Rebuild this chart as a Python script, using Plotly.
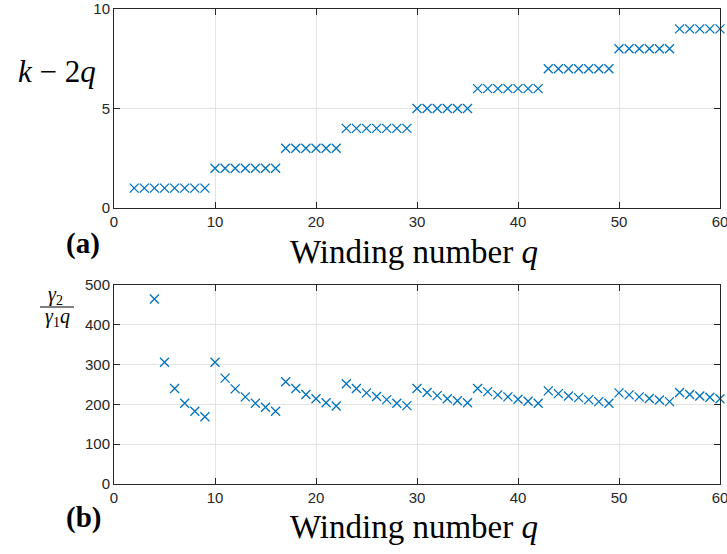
import plotly.graph_objects as go
from plotly.subplots import make_subplots

# Data
q_top = list(range(2, 61))
k_minus_2q = ([1] * 8 + [2] * 7 + [3] * 6 + [4] * 7 + [5] * 6 + [6] * 7 +
              [7] * 7 + [8] * 6 + [9] * 5)

q_bot = list(range(4, 61))
gamma_ratio = [465, 306, 240, 203, 183, 169,
               306, 266, 239, 219, 203, 193, 183,
               257, 240, 225, 214, 204, 196,
               252, 240, 229, 220, 212, 203, 197,
               240, 230, 222, 214, 209, 204,
               240, 232, 224, 219, 213, 208, 203,
               234, 227, 221, 217, 212, 207, 203,
               229, 224, 219, 215, 211, 207,
               230, 225, 221, 218, 214]

x_ticks = [0, 10, 20, 30, 40, 50, 60]

W, H = 727, 554
L, R, T, B = 114, 7, 9, 70
pw = W - L - R
ph = H - T - B


def px(x):
    return (x - L) / pw


def py(y):
    return (H - B - y) / ph


fig = make_subplots(rows=2, cols=1)
blue = "#0072BD"
mk = dict(symbol="x-thin", size=9, line=dict(width=1.3, color=blue), color=blue)
fig.add_trace(go.Scatter(x=q_top, y=k_minus_2q, mode="markers", marker=mk,
                         showlegend=False, cliponaxis=False), row=1, col=1)
fig.add_trace(go.Scatter(x=q_bot, y=gamma_ratio, mode="markers", marker=mk,
                         showlegend=False, cliponaxis=False), row=2, col=1)

axis_common = dict(showline=True, linecolor="#262626", linewidth=1, mirror="ticks",
                   ticks="inside", ticklen=6, tickcolor="#262626",
                   showgrid=True, gridcolor="#e3e3e3", gridwidth=1, zeroline=False,
                   ticklabeloverflow="allow",
                   tickfont=dict(family="Liberation Sans", size=15, color="#262626"))

top_dom = [py(208), 1.0]
bot_dom = [0.0, py(285)]

fig.update_layout(
    width=W, height=H, margin=dict(l=L, r=R, t=T, b=B, autoexpand=False),
    paper_bgcolor="white", plot_bgcolor="white",
    xaxis=dict(range=[0, 60], tickvals=x_ticks, domain=[0, 1], anchor="y", **axis_common),
    yaxis=dict(range=[0, 10], tickvals=[0, 5, 10], domain=top_dom, anchor="x", **axis_common),
    xaxis2=dict(range=[0, 60], tickvals=x_ticks, domain=[0, 1], anchor="y2", **axis_common),
    yaxis2=dict(range=[0, 500], tickvals=[0, 100, 200, 300, 400, 500], domain=bot_dom,
                anchor="x2", **axis_common),
)

serif = "Liberation Serif"
ann = []


def add_text(text, x, y, size):
    ann.append(dict(text=text, x=px(x), y=py(y), xref="paper", yref="paper",
                    showarrow=False, font=dict(family=serif, size=size, color="black"),
                    xanchor="center", yanchor="middle"))


add_text("Winding number <i>q</i>", 414, 252, 33)
add_text("Winding number <i>q</i>", 414, 527, 33)
add_text("<b>(a)</b>", 83, 243, 29)
add_text("<b>(b)</b>", 83, 517, 29)
add_text("<i>k</i> − 2<i>q</i>", 57, 71, 31)
add_text("<i>γ</i><sub>2</sub>", 55, 295, 20)
add_text("<i>γ</i><sub>1</sub><i>q</i>", 57, 318, 20)
fig.update_layout(annotations=ann)
fig.add_shape(type="line", xref="paper", yref="paper", x0=px(40), x1=px(74),
              y0=py(307), y1=py(307), line=dict(color="black", width=1.2))

fig.write_html("out.html")
